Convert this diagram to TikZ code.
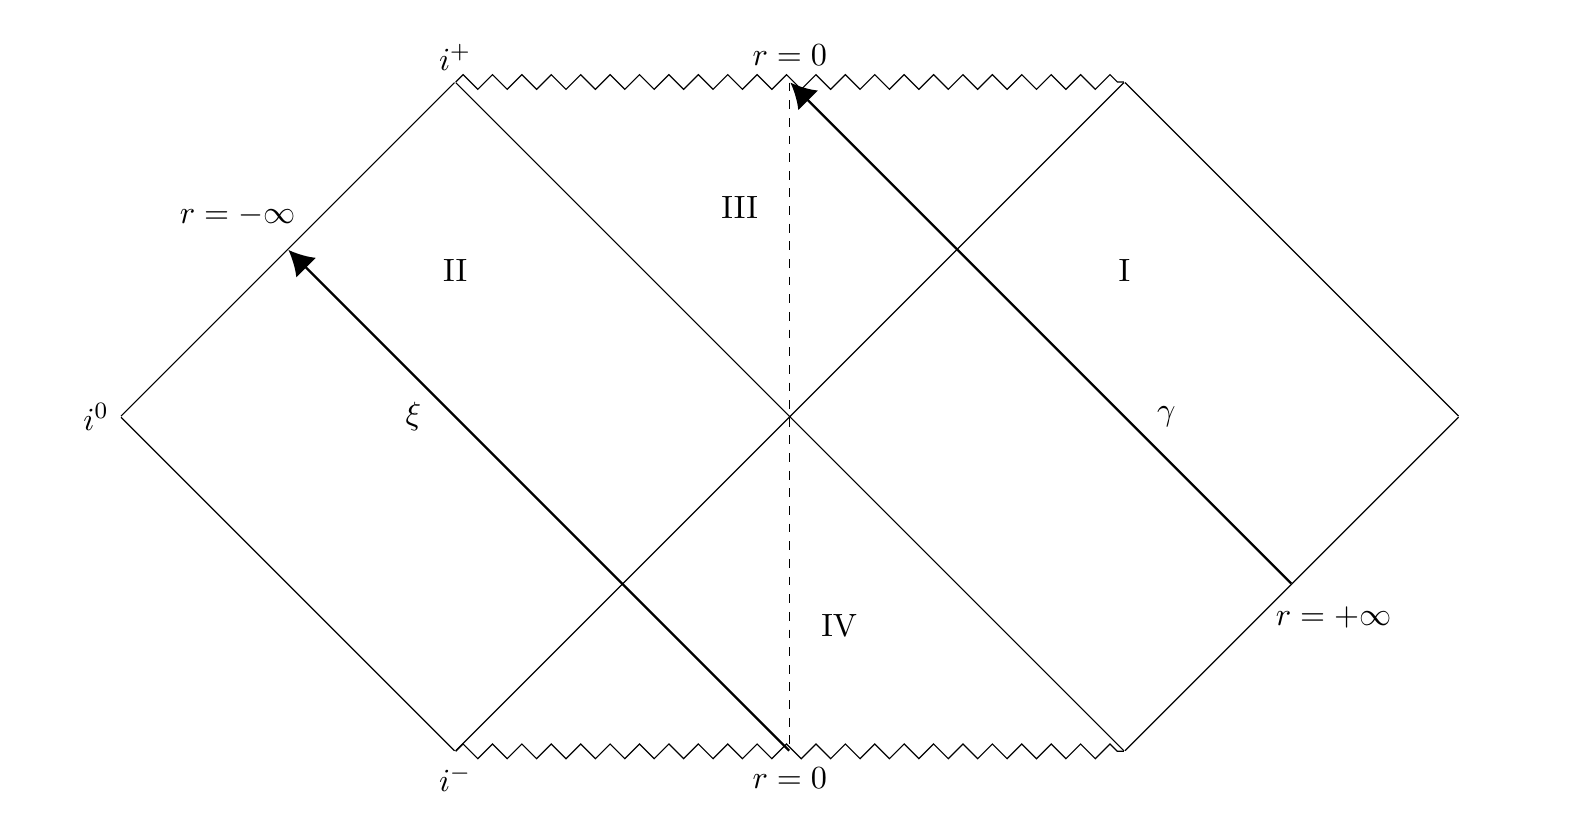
\documentclass[tikz,border=0pt,11pt]{standalone}
\usepackage{amsfonts}
\usetikzlibrary{positioning,arrows.meta,decorations.pathmorphing}
\tikzset{ %
  ,>={Latex[length=8.5pt,width=9.5pt]}
  ,singular/.style={decorate, decoration=zigzag}
  ,geodesic/.style={thick,->}
  ,region/.style={inner sep=0}
  ,corner/.style={inner sep=0, minimum size=0}
}

\begin{document}
\begin{tikzpicture}
      \useasboundingbox (-9.44,-4.97) rectangle (9.54,4.98);
      \draw
      node[corner] (O) at (0,0) {}
      node[corner] (L) at (-8,0) {}
      node[corner] (R) at (8,0) {}
      node[corner] (TL) at (-4,4) {}
      node[corner] (TR) at (4,4) {}
      node[corner] (BL) at (-4,-4) {}
      node[corner] (BR) at (4,-4) {}
      node[corner] (TM) at (0,4) {}
      node[corner] (BM) at (0,-4) {}
      node[corner] (GA) at (6,-2) {}
      node[corner] (XI) at (-6,2) {};
      \draw (L) -- (TL) -- (BR) -- (R) -- (TR) -- (BL) -- (L);
      \draw [singular] (TL) -- (TR);
      \draw [singular] (BL) -- (BR);
      \draw [dashed] (TM) -- (BM);
      \draw [geodesic] (BM) edge (XI) (GA) edge (TM);
      \node[above=0pt of TL] (ip) {$i^+$};
      \node[below=0.7pt of BL] (im) {$i^-$};
      \node[left=0pt of L] (iz) {$i^0$};
      \node[above=1.7pt of TM] (rt) {$r=0$};
      \node[below=1.7pt of BM] (rb) {$r=0$};
      \node at (-6.6,2.4) (rm) {$r=-\infty$};
      \node at (6.5,-2.4) (rp) {$r=+\infty$};
      \node[region] at (-4,1.75) (II) {II};
      \node[region] at (4,1.75) (I) {I};
      \node[region] at (-0.6,2.5) (III) {III};
      \node[region] at (0.59,-2.5) (IV) {IV};
      \node[region] at (-4.5,0) (xi) {$\xi$};
      \node[region] at (4.5,0) (ga) {$\gamma$};
    \end{tikzpicture}
\end{document}
